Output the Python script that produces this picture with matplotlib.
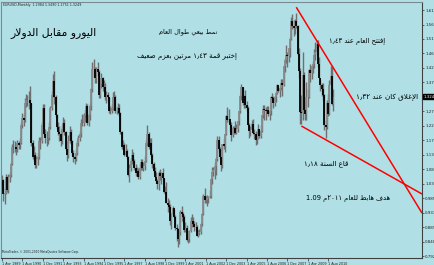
import re
import numpy as np
import matplotlib
matplotlib.use("Agg")
import matplotlib.pyplot as plt

# ---------------- data (monthly EURUSD, Apr 1989 .. Dec 2010) ----------------
first_open = 1.040
closes = [
    1.046, 0.998, 1.003, 1.057, 1.013, 1.057, 1.063, 1.099, 1.157,                  # 1989 Apr-Dec
    1.157, 1.157, 1.150, 1.171, 1.164, 1.171, 1.230, 1.254, 1.246, 1.304, 1.313, 1.313,  # 1990
    1.313, 1.304, 1.171, 1.124, 1.131, 1.095, 1.118, 1.124, 1.178, 1.178, 1.230, 1.287,  # 1991
    1.200, 1.185, 1.185, 1.185, 1.222, 1.287, 1.330, 1.377, 1.322, 1.262, 1.222, 1.207,  # 1992
    1.200, 1.178, 1.215, 1.238, 1.207, 1.150, 1.131, 1.178, 1.207, 1.178, 1.137, 1.124,  # 1993
    1.118, 1.137, 1.171, 1.185, 1.200, 1.238, 1.238, 1.262, 1.262, 1.295, 1.238, 1.262,  # 1994
    1.295, 1.349, 1.417, 1.417, 1.387, 1.417, 1.407, 1.330, 1.368, 1.387, 1.358, 1.358,  # 1995
    1.322, 1.330, 1.322, 1.278, 1.278, 1.287, 1.322, 1.322, 1.278, 1.278, 1.287, 1.270,  # 1996
    1.207, 1.157, 1.164, 1.131, 1.144, 1.124, 1.063, 1.087, 1.111, 1.131, 1.111, 1.087,  # 1997
    1.069, 1.075, 1.057, 1.087, 1.105, 1.087, 1.093, 1.111, 1.171, 1.200, 1.157, 1.171,  # 1998
    1.1295, 1.0985, 1.0775, 1.0575, 1.0445, 1.0315, 1.0695, 1.0595, 1.0685, 1.0525, 1.0075, 1.0070,  # 1999
    0.9710, 0.9640, 0.9570, 0.9110, 0.9330, 0.9520, 0.9245, 0.8875, 0.8830, 0.8485, 0.8725, 0.9390,  # 2000
    0.9340, 0.9215, 0.8785, 0.8870, 0.8470, 0.8480, 0.8760, 0.9110, 0.9110, 0.9005, 0.8900, 0.8900,  # 2001
    0.8610, 0.8680, 0.8720, 0.9010, 0.9330, 0.9915, 0.9780, 0.9800, 0.9865, 0.9880, 0.9930, 1.0490,  # 2002
    1.0740, 1.0795, 1.0915, 1.1155, 1.1800, 1.1505, 1.1240, 1.0960, 1.1650, 1.1600, 1.1985, 1.2595,  # 2003
    1.2465, 1.2485, 1.2305, 1.1960, 1.2200, 1.2185, 1.2020, 1.2175, 1.2435, 1.2755, 1.3260, 1.3555,  # 2004
    1.3030, 1.3255, 1.2960, 1.2875, 1.2305, 1.2100, 1.2125, 1.2340, 1.2025, 1.1985, 1.1790, 1.1840,  # 2005
    1.2155, 1.1925, 1.2115, 1.2625, 1.2820, 1.2795, 1.2760, 1.2810, 1.2675, 1.2755, 1.3245, 1.3195,  # 2006
    1.3025, 1.3235, 1.3355, 1.3645, 1.3450, 1.3540, 1.3690, 1.3640, 1.4265, 1.4485, 1.4630, 1.4590,  # 2007
    1.4865, 1.5180, 1.5785, 1.5600, 1.5545, 1.5755, 1.5605, 1.4665, 1.4095, 1.2730, 1.2700, 1.3970,  # 2008
    1.2800, 1.2670, 1.3250, 1.3240, 1.4150, 1.4030, 1.4255, 1.4335, 1.4640, 1.4725, 1.5000, 1.4320,  # 2009
    1.3865, 1.3625, 1.3510, 1.3295, 1.2300, 1.2235, 1.3050, 1.2680, 1.3630, 1.3935, 1.2984, 1.3249,  # 2010
]
highs = [
    1.062, 1.050, 1.020, 1.065, 1.060, 1.066, 1.072, 1.105, 1.165,
    1.180, 1.175, 1.170, 1.180, 1.178, 1.185, 1.240, 1.270, 1.265, 1.320, 1.335, 1.330,
    1.345, 1.360, 1.305, 1.180, 1.160, 1.140, 1.125, 1.135, 1.190, 1.190, 1.240, 1.300,
    1.300, 1.215, 1.210, 1.205, 1.240, 1.295, 1.345, 1.400, 1.410, 1.330, 1.265, 1.240,
    1.225, 1.210, 1.230, 1.255, 1.250, 1.210, 1.160, 1.195, 1.225, 1.215, 1.180, 1.145,
    1.135, 1.150, 1.180, 1.195, 1.210, 1.250, 1.265, 1.270, 1.280, 1.305, 1.300, 1.270,
    1.305, 1.355, 1.440, 1.450, 1.425, 1.425, 1.440, 1.415, 1.375, 1.405, 1.390, 1.380,
    1.370, 1.345, 1.340, 1.325, 1.295, 1.300, 1.340, 1.345, 1.330, 1.290, 1.305, 1.300,
    1.275, 1.210, 1.180, 1.170, 1.165, 1.150, 1.128, 1.100, 1.120, 1.150, 1.140, 1.115,
    1.100, 1.090, 1.085, 1.100, 1.115, 1.115, 1.105, 1.125, 1.180, 1.230, 1.205, 1.185,
    1.1880, 1.1370, 1.1050, 1.0900, 1.0720, 1.0505, 1.0770, 1.0830, 1.0720, 1.0880, 1.0530, 1.0260,
    1.0410, 0.9850, 0.9790, 0.9660, 0.9350, 0.9600, 0.9500, 0.9300, 0.9005, 0.8870, 0.8790, 0.9450,
    0.9595, 0.9400, 0.9300, 0.9045, 0.8950, 0.8660, 0.8780, 0.9230, 0.9320, 0.9220, 0.9080, 0.9070,
    0.8950, 0.8790, 0.8840, 0.9040, 0.9370, 0.9990, 1.0190, 0.9920, 0.9950, 0.9920, 1.0140, 1.0500,
    1.0890, 1.0890, 1.1080, 1.1230, 1.1935, 1.1930, 1.1580, 1.1300, 1.1660, 1.1850, 1.2005, 1.2630,
    1.2900, 1.2850, 1.2440, 1.2390, 1.2280, 1.2275, 1.2440, 1.2330, 1.2440, 1.2780, 1.3300, 1.3665,
    1.3580, 1.3290, 1.3480, 1.3090, 1.2940, 1.2380, 1.2250, 1.2480, 1.2500, 1.2180, 1.2110, 1.2050,
    1.2320, 1.2140, 1.2290, 1.2640, 1.2980, 1.2960, 1.2900, 1.2920, 1.2920, 1.2800, 1.3280, 1.3365,
    1.3270, 1.3270, 1.3410, 1.3680, 1.3630, 1.3550, 1.3850, 1.3850, 1.4280, 1.4525, 1.4970, 1.4750,
    1.4880, 1.5240, 1.5905, 1.6020, 1.5815, 1.5850, 1.6038, 1.5635, 1.4865, 1.4200, 1.3300, 1.4720,
    1.4060, 1.3060, 1.3740, 1.3490, 1.4180, 1.4340, 1.4280, 1.4445, 1.4845, 1.5065, 1.5145, 1.5140,
    1.4580, 1.3820, 1.3690, 1.3690, 1.3330, 1.2450, 1.3120, 1.3330, 1.3790, 1.4280, 1.4280, 1.3500,
]
lows = [
    1.030, 0.975, 0.965, 0.998, 1.005, 1.003, 1.040, 1.058, 1.095,
    1.135, 1.140, 1.130, 1.140, 1.150, 1.150, 1.165, 1.220, 1.225, 1.240, 1.290, 1.295,
    1.285, 1.290, 1.160, 1.115, 1.110, 1.085, 1.088, 1.095, 1.115, 1.150, 1.170, 1.225,
    1.195, 1.170, 1.160, 1.165, 1.180, 1.215, 1.280, 1.325, 1.300, 1.255, 1.215, 1.195,
    1.175, 1.160, 1.165, 1.205, 1.195, 1.145, 1.110, 1.120, 1.170, 1.165, 1.125, 1.105,
    1.100, 1.110, 1.130, 1.160, 1.175, 1.190, 1.225, 1.225, 1.240, 1.255, 1.230, 1.225,
    1.245, 1.280, 1.340, 1.390, 1.370, 1.370, 1.395, 1.320, 1.320, 1.355, 1.345, 1.340,
    1.315, 1.305, 1.310, 1.270, 1.265, 1.270, 1.280, 1.310, 1.270, 1.265, 1.265, 1.260,
    1.200, 1.150, 1.145, 1.125, 1.125, 1.115, 1.060, 1.040, 1.075, 1.100, 1.105, 1.080,
    1.060, 1.060, 1.050, 1.050, 1.080, 1.080, 1.075, 1.080, 1.105, 1.160, 1.150, 1.155,
    1.1220, 1.0880, 1.0700, 1.0550, 1.0380, 1.0155, 1.0130, 1.0460, 1.0320, 1.0450, 1.0040, 0.9990,
    0.9690, 0.9390, 0.9500, 0.8950, 0.8840, 0.9270, 0.9190, 0.8810, 0.8440, 0.8228, 0.8320, 0.8640,
    0.9080, 0.9020, 0.8740, 0.8730, 0.8430, 0.8350, 0.8380, 0.8720, 0.8900, 0.8950, 0.8760, 0.8760,
    0.8580, 0.8570, 0.8630, 0.8670, 0.8940, 0.9300, 0.9710, 0.9690, 0.9610, 0.9690, 0.9870, 0.9860,
    1.0335, 1.0610, 1.0500, 1.0620, 1.1100, 1.1400, 1.1150, 1.0765, 1.0870, 1.1510, 1.1400, 1.1950,
    1.2400, 1.2360, 1.2080, 1.1760, 1.1910, 1.2000, 1.2010, 1.2000, 1.2050, 1.2300, 1.2700, 1.3150,
    1.2960, 1.2870, 1.2880, 1.2770, 1.2290, 1.1870, 1.1920, 1.2150, 1.1990, 1.1830, 1.1640, 1.1680,
    1.1820, 1.1860, 1.1870, 1.2070, 1.2530, 1.2450, 1.2460, 1.2700, 1.2600, 1.2480, 1.2640, 1.3120,
    1.2865, 1.2950, 1.3080, 1.3330, 1.3405, 1.3250, 1.3480, 1.3260, 1.3610, 1.4085, 1.4380, 1.4250,
    1.4400, 1.4560, 1.5140, 1.5510, 1.5285, 1.5350, 1.5540, 1.4620, 1.3880, 1.2330, 1.2330, 1.2450,
    1.2775, 1.2455, 1.2460, 1.2890, 1.3200, 1.3750, 1.3850, 1.4040, 1.4210, 1.4480, 1.4650, 1.4220,
    1.3860, 1.3440, 1.3270, 1.3140, 1.2140, 1.1875, 1.2150, 1.2590, 1.2640, 1.3700, 1.2970, 1.2751,
]

x_tick_labels = ["1 Apr 1989", "1 Aug 1990", "1 Dec 1991", "1 Apr 1993", "1 Aug 1994",
                 "1 Dec 1995", "1 Apr 1997", "1 Aug 1998", "1 Dec 1999", "1 Apr 2001",
                 "1 Aug 2002", "1 Dec 2003", "1 Apr 2005", "1 Aug 2006", "1 Dec 2007",
                 "1 Apr 2009", "1 Aug 2010"]
x_tick_months = [0, 16, 32, 48, 64, 80, 96, 112, 128, 144, 160, 176, 192, 208, 224, 240, 256]
y_tick_values = [0.7925, 0.8408, 0.8891, 0.9374, 0.9857, 1.0340, 1.0823, 1.1306, 1.1789,
                 1.2272, 1.2755, 1.3238, 1.3721, 1.4204, 1.4687, 1.5170, 1.5653, 1.6136]
current_price = 1.3249

# trend lines: (month index, price) anchors
trend_down = [(231, 1.623), (329.7, 0.936)]
trend_low = [(235, 1.2266), (329.7, 0.9996)]

header = "EURUSD,Monthly  1.2984 1.3490 1.2751 1.3249"
watermark = "MetaTrader, \u00a9 2001-2010 MetaQuotes Software Corp."

# annotations: text, month idx, price, target width px
notes = [
    ("اليورو مقابل الدولار", 40.7, 1.537, 86),
    ("نمط بيعي طوال العام", 146.0, 1.540, 58),
    ("إختبر قمة ١٫٤٣ مرتين بعزم ضعيف", 145.2, 1.457, 100),
    ("إفتتح العام عند ١٫٤٣", 278.4, 1.507, 56),
    ("الإغلاق كان عند ١٫٣٢", 302.5, 1.3234, 62),
    ("قاع السنة ١٫١٨", 254.5, 1.100, 45),
    ("هدف هابط للعام ٢٠١١م 1.09", 271.3, 0.983, 84),
]

# ---------------- minimal Arabic shaping + bidi ----------------
DUAL = {'\u0626': 0xFE89, '\u0628': 0xFE8F, '\u062A': 0xFE95, '\u062B': 0xFE99,
        '\u062C': 0xFE9D, '\u062D': 0xFEA1, '\u062E': 0xFEA5, '\u0633': 0xFEB1,
        '\u0634': 0xFEB5, '\u0635': 0xFEB9, '\u0636': 0xFEBD, '\u0637': 0xFEC1,
        '\u0638': 0xFEC5, '\u0639': 0xFEC9, '\u063A': 0xFECD, '\u0641': 0xFED1,
        '\u0642': 0xFED5, '\u0643': 0xFED9, '\u0644': 0xFEDD, '\u0645': 0xFEE1,
        '\u0646': 0xFEE5, '\u0647': 0xFEE9, '\u064A': 0xFEF1}
RIGHT = {'\u0622': 0xFE81, '\u0623': 0xFE83, '\u0624': 0xFE85, '\u0625': 0xFE87,
         '\u0627': 0xFE8D, '\u0629': 0xFE93, '\u062F': 0xFEA9, '\u0630': 0xFEAB,
         '\u0631': 0xFEAD, '\u0632': 0xFEAF, '\u0648': 0xFEED, '\u0649': 0xFEEF}
LAMALEF = {'\u0622': 0xFEF5, '\u0623': 0xFEF7, '\u0625': 0xFEF9, '\u0627': 0xFEFB}


def shape(s):
    out = []
    i, n = 0, len(s)
    is_letter = lambda ch: ch in DUAL or ch in RIGHT
    while i < n:
        ch = s[i]
        prev = s[i - 1] if i > 0 else ''
        cp = is_letter(ch) and prev in DUAL
        if ch == '\u0644' and i + 1 < n and s[i + 1] in LAMALEF:
            out.append(chr(LAMALEF[s[i + 1]] + (1 if cp else 0)))
            i += 2
            continue
        if ch in DUAL:
            nxt = s[i + 1] if i + 1 < n else ''
            cn = is_letter(nxt)
            off = 3 if (cp and cn) else 1 if cp else 2 if cn else 0
            out.append(chr(DUAL[ch] + off))
        elif ch in RIGHT:
            out.append(chr(RIGHT[ch] + (1 if cp else 0)))
        else:
            out.append(ch)
        i += 1
    return ''.join(out)


def visual(s):
    v = shape(s)[::-1]
    return re.sub(r'[0-9\u0660-\u0669.\u066B]+', lambda m: m.group(0)[::-1], v)


# ---------------- figure ----------------
W, H = 435, 265
BG = '#B0E0E6'
fig = plt.figure(figsize=(W / 100, H / 100), dpi=100, facecolor=BG)
ax = fig.add_axes([1 / W, 1 - 258 / H, 421 / W, 256 / H], facecolor=BG)

n = len(closes)
idx = np.arange(n)
c = np.array(closes)
o = np.concatenate([[first_open], c[:-1]])
h = np.array(highs)
l = np.array(lows)

ax.vlines(idx, l, h, color='#6f6f6f', lw=1.0, zorder=2)
bear = c < o
ax.vlines(idx[~bear], o[~bear], c[~bear], color='#8a8a8a', lw=1.3, zorder=3)
ax.vlines(idx[bear], c[bear], o[bear], color='#000000', lw=1.3, zorder=3)

for line in (trend_down, trend_low):
    (x0, y0), (x1, y1) = line
    ax.plot([x0, x1], [y0, y1], color='#FF0000', lw=1.1, zorder=4, solid_capstyle='butt')

ax.set_xlim(-0.8, 329.7)
ax.set_ylim(0.786, 1.6405)

ax.set_xticks(x_tick_months)
ax.set_xticklabels(x_tick_labels, fontsize=2.4, ha='left', color='#202020')
ax.tick_params(axis='x', length=2, width=0.5, pad=0.6, colors='#303030')
ax.yaxis.tick_right()
ax.set_yticks(y_tick_values)
ylabels = ["" if abs(v - current_price) < 0.012 else f"{v:.4f}" for v in y_tick_values]
ax.set_yticklabels(ylabels, fontsize=2.9, color='#202020')
ax.tick_params(axis='y', length=1.5, width=0.5, pad=0.8, colors='#303030')
for lab in ax.get_xticklabels() + ax.get_yticklabels():
    lab.set_color('#202020')

for s in ('left', 'top'):
    ax.spines[s].set_color('#7a8a8e')
    ax.spines[s].set_linewidth(0.8)
for s in ('right', 'bottom'):
    ax.spines[s].set_color('#404040')
    ax.spines[s].set_linewidth(0.8)

ax.text(1.004, current_price, f"{current_price:.4f}", transform=ax.get_yaxis_transform(),
        fontsize=2.9, color='white', va='center', ha='left',
        bbox=dict(boxstyle='square,pad=0.2', fc='black', ec='black'), zorder=6, clip_on=False)

fig.text(3 / W, 1 - 5 / H, header, fontsize=2.3, color='#202020', va='center', ha='left')
fig.text(2 / W, 1 - 252 / H, watermark, fontsize=2.1, color='#202020', va='center', ha='left')

renderer = fig.canvas.get_renderer()
for txt, xm, yp, wpx in notes:
    t = ax.text(xm, yp, visual(txt), fontsize=10, family='DejaVu Sans', color='black',
                ha='center', va='center', zorder=7)
    bb = t.get_window_extent(renderer)
    t.set_fontsize(10 * wpx / bb.width)

fig.savefig('out.png', dpi=100, facecolor=BG)
